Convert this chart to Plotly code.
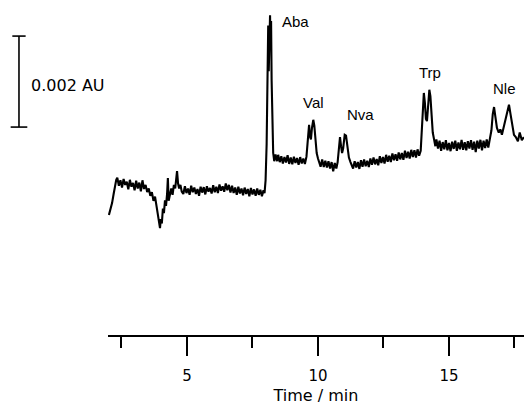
import plotly.graph_objects as go

# ---- data (time in min, absorbance in mAU) ----
seg_start = [(2.02, 2.64), (2.08, 2.75), (2.14, 2.90), (2.20, 3.10), (2.26, 3.35), (2.30, 3.41)]
seg_base1 = [(2.34, 3.46), (2.40, 3.28), (2.46, 3.40), (2.52, 3.24), (2.58, 3.43), (2.64, 3.30),
             (2.70, 3.37), (2.76, 3.20), (2.82, 3.41), (2.88, 3.26), (2.94, 3.34), (3.00, 3.18),
             (3.06, 3.39), (3.12, 3.22), (3.18, 3.35), (3.24, 3.16), (3.30, 3.40), (3.36, 3.21),
             (3.42, 3.30), (3.48, 3.14)]
seg_dip = [(3.54, 3.22), (3.60, 3.06), (3.66, 3.14), (3.72, 2.95), (3.78, 3.04), (3.84, 2.80),
           (3.90, 2.60), (3.94, 2.40), (3.97, 2.35), (4.00, 2.55), (4.04, 2.45), (4.08, 2.78),
           (4.12, 2.68), (4.16, 2.96), (4.20, 2.84), (4.24, 3.10), (4.27, 3.45), (4.30, 2.95),
           (4.35, 3.06), (4.40, 3.22), (4.45, 3.08), (4.50, 3.30), (4.55, 3.22), (4.60, 3.52),
           (4.62, 3.60), (4.66, 3.33), (4.70, 3.22), (4.75, 3.30), (4.80, 3.15)]
seg_base2 = [(4.86, 3.10), (4.92, 3.27), (4.98, 3.12), (5.04, 3.22), (5.10, 3.08), (5.16, 3.28),
             (5.22, 3.14), (5.28, 3.24), (5.34, 3.10), (5.40, 3.21), (5.46, 3.06), (5.52, 3.26),
             (5.58, 3.13), (5.64, 3.25), (5.70, 3.09), (5.76, 3.27), (5.82, 3.15), (5.88, 3.23),
             (5.94, 3.11), (6.00, 3.29), (6.06, 3.14), (6.12, 3.26), (6.18, 3.12), (6.24, 3.31),
             (6.30, 3.17), (6.36, 3.27), (6.42, 3.15), (6.48, 3.33), (6.54, 3.18), (6.60, 3.30),
             (6.66, 3.13), (6.72, 3.28), (6.78, 3.12), (6.84, 3.24), (6.90, 3.08), (6.96, 3.26),
             (7.02, 3.11), (7.08, 3.22), (7.14, 3.07), (7.20, 3.24), (7.26, 3.10), (7.32, 3.21),
             (7.38, 3.05), (7.44, 3.23), (7.50, 3.09), (7.56, 3.20), (7.62, 3.06), (7.68, 3.22),
             (7.74, 3.08), (7.80, 3.19), (7.86, 3.05), (7.92, 3.18), (7.96, 3.12)]
seg_aba = [(8.00, 3.40), (8.04, 4.20), (8.07, 5.60), (8.10, 6.80), (8.12, 5.80), (8.14, 6.60),
           (8.17, 7.03), (8.19, 6.30), (8.21, 6.90), (8.23, 5.60), (8.26, 4.40), (8.29, 4.00),
           (8.33, 3.82), (8.38, 3.97), (8.44, 3.82)]
seg_base3 = [(8.48, 3.96), (8.54, 3.80), (8.60, 3.93), (8.66, 3.77), (8.72, 3.91), (8.78, 3.79),
             (8.84, 3.95), (8.90, 3.76), (8.96, 3.90), (9.02, 3.75), (9.08, 3.92), (9.14, 3.78),
             (9.20, 3.89), (9.26, 3.74), (9.32, 3.91), (9.38, 3.77), (9.44, 3.88), (9.50, 3.76)]
seg_val = [(9.56, 3.92), (9.60, 4.20), (9.64, 4.55), (9.66, 4.62), (9.70, 4.35), (9.73, 4.30),
           (9.77, 4.55), (9.82, 4.73), (9.86, 4.60), (9.90, 4.25), (9.95, 4.00), (10.00, 3.88),
           (10.05, 3.80)]
seg_base4 = [(10.10, 3.70), (10.16, 3.86), (10.22, 3.69), (10.28, 3.83), (10.34, 3.68),
             (10.40, 3.82), (10.46, 3.66), (10.52, 3.80), (10.58, 3.60), (10.64, 3.78), (10.70, 3.66)]
seg_nva = [(10.75, 3.80), (10.80, 4.10), (10.84, 4.35), (10.88, 4.15), (10.92, 4.00), (10.96, 4.10),
           (11.02, 4.40), (11.07, 4.38), (11.12, 4.10), (11.18, 3.90), (11.24, 3.80), (11.30, 3.72)]
seg_base5 = [(11.34, 3.66), (11.40, 3.82), (11.46, 3.68), (11.52, 3.80), (11.58, 3.65), (11.64, 3.84),
             (11.70, 3.70), (11.76, 3.86), (11.82, 3.71), (11.88, 3.83), (11.94, 3.69), (12.00, 3.88),
             (12.06, 3.74), (12.12, 3.90), (12.18, 3.75), (12.24, 3.87), (12.30, 3.73), (12.36, 3.93),
             (12.42, 3.78), (12.48, 3.91), (12.54, 3.77), (12.60, 3.96), (12.66, 3.81), (12.72, 3.94),
             (12.78, 3.80), (12.84, 3.99), (12.90, 3.84), (12.96, 3.97), (13.02, 3.83), (13.08, 4.01),
             (13.14, 3.86), (13.20, 4.00), (13.26, 3.85), (13.32, 4.05), (13.38, 3.89), (13.44, 4.03),
             (13.50, 3.88), (13.56, 4.07), (13.62, 3.91), (13.68, 4.06), (13.74, 3.90), (13.80, 4.08),
             (13.86, 3.94)]
seg_trp = [(13.92, 4.05), (13.96, 4.40), (14.00, 4.95), (14.04, 5.32), (14.08, 5.10), (14.12, 4.75),
           (14.16, 4.70), (14.20, 5.10), (14.25, 5.39), (14.29, 5.25), (14.33, 4.80), (14.38, 4.45),
           (14.43, 4.30), (14.48, 4.15)]
seg_base6 = [(14.52, 4.30), (14.58, 4.10), (14.64, 4.27), (14.70, 4.05), (14.76, 4.24), (14.82, 4.08),
             (14.88, 4.28), (14.94, 4.06), (15.00, 4.22), (15.06, 4.04), (15.12, 4.25), (15.18, 4.09),
             (15.24, 4.27), (15.30, 4.05), (15.36, 4.23), (15.42, 4.08), (15.48, 4.29), (15.54, 4.07),
             (15.60, 4.24), (15.66, 4.06), (15.72, 4.26), (15.78, 4.10), (15.84, 4.28), (15.90, 4.07),
             (15.96, 4.25), (16.02, 4.02), (16.08, 4.27), (16.14, 4.10), (16.20, 4.29), (16.26, 4.06),
             (16.32, 4.27), (16.38, 4.11), (16.44, 4.30), (16.50, 4.12), (16.56, 4.31)]
seg_nle = [(16.62, 4.50), (16.67, 4.85), (16.72, 5.01), (16.77, 4.80), (16.83, 4.55), (16.90, 4.45),
           (16.96, 4.52), (17.02, 4.40), (17.08, 4.55), (17.15, 4.75), (17.22, 4.95), (17.29, 5.06),
           (17.35, 4.85), (17.42, 4.60), (17.48, 4.40), (17.55, 4.35), (17.63, 4.26), (17.70, 4.45),
           (17.78, 4.28), (17.86, 4.35)]

segments = [seg_start, seg_base1, seg_dip, seg_base2, seg_aba, seg_base3, seg_val, seg_base4,
            seg_nva, seg_base5, seg_trp, seg_base6, seg_nle]

peak_labels = ["Aba", "Val", "Nva", "Trp", "Nle"]
label_times = [9.16, 9.83, 11.64, 14.27, 17.10]
label_levels = [6.88, 5.10, 4.84, 5.78, 5.41]

major_ticks = [5, 10, 15]
minor_ticks = [2.5, 7.5, 12.5, 17.5]
x_range = [1.985, 17.863]
y_range = [0.0, 7.363]

scale_bottom = 4.57   # mAU
scale_length = 2.0    # mAU = 0.002 AU
scale_label = "0.002 AU"

# ---- figure ----
times = [p[0] for seg in segments for p in seg]
values = [p[1] for seg in segments for p in seg]

FONT = "Liberation Sans, Arial, Helvetica, sans-serif"
WIDE = "DejaVu Sans, Verdana, sans-serif"

fig = go.Figure()
fig.add_trace(go.Scatter(x=times, y=values, mode="lines",
                         line=dict(color="black", width=2.1), hoverinfo="skip",
                         showlegend=False))

for txt, tx, ty in zip(peak_labels, label_times, label_levels):
    fig.add_annotation(x=tx, y=ty, xref="x", yref="y", text=txt, showarrow=False,
                       font=dict(family=FONT, size=15, color="black"))

# scale bar (in paper coordinates derived from the y scale)
def to_paper(v):
    return (v - y_range[0]) / (y_range[1] - y_range[0])

yb = to_paper(scale_bottom)
yt = to_paper(scale_bottom + scale_length)
bar_x = -0.214
fig.add_shape(type="line", xref="paper", yref="paper", x0=bar_x, x1=bar_x, y0=yb, y1=yt,
              line=dict(color="black", width=1.6))
fig.add_shape(type="line", xref="paper", yref="paper", x0=bar_x - 0.02, x1=bar_x + 0.02, y0=yb, y1=yb,
              line=dict(color="black", width=1.6))
fig.add_shape(type="line", xref="paper", yref="paper", x0=bar_x - 0.016, x1=bar_x + 0.016, y0=yt, y1=yt,
              line=dict(color="black", width=1.6))
fig.add_annotation(x=-0.19, y=(yb + yt) / 2 - 4 / 335, xref="paper", yref="paper", text=scale_label,
                   showarrow=False, xanchor="left", yanchor="middle",
                   font=dict(family=WIDE, size=16, color="black"))

fig.update_layout(
    width=524, height=405,
    margin=dict(l=108, r=0, t=0, b=70),
    paper_bgcolor="white", plot_bgcolor="white",
    showlegend=False,
    font=dict(family=FONT, size=15, color="black"),
    xaxis=dict(range=x_range, showgrid=False, zeroline=False,
               showline=True, linecolor="black", linewidth=2,
               ticks="outside", tickvals=major_ticks, ticktext=[str(v) for v in major_ticks],
               ticklen=19, tickwidth=2, tickcolor="black", ticklabelstandoff=7,
               minor=dict(tickvals=minor_ticks, ticks="outside", ticklen=11,
                          tickwidth=2, tickcolor="black", showgrid=False),
               tickfont=dict(family=WIDE, size=15, color="black"),
               title=dict(text="Time / min", standoff=6,
                          font=dict(family=WIDE, size=16, color="black"))),
    yaxis=dict(range=y_range, visible=False, showgrid=False, zeroline=False),
)

fig.write_html("out.html", config={"displayModeBar": False},
               post_script="document.body.style.margin='0';")
